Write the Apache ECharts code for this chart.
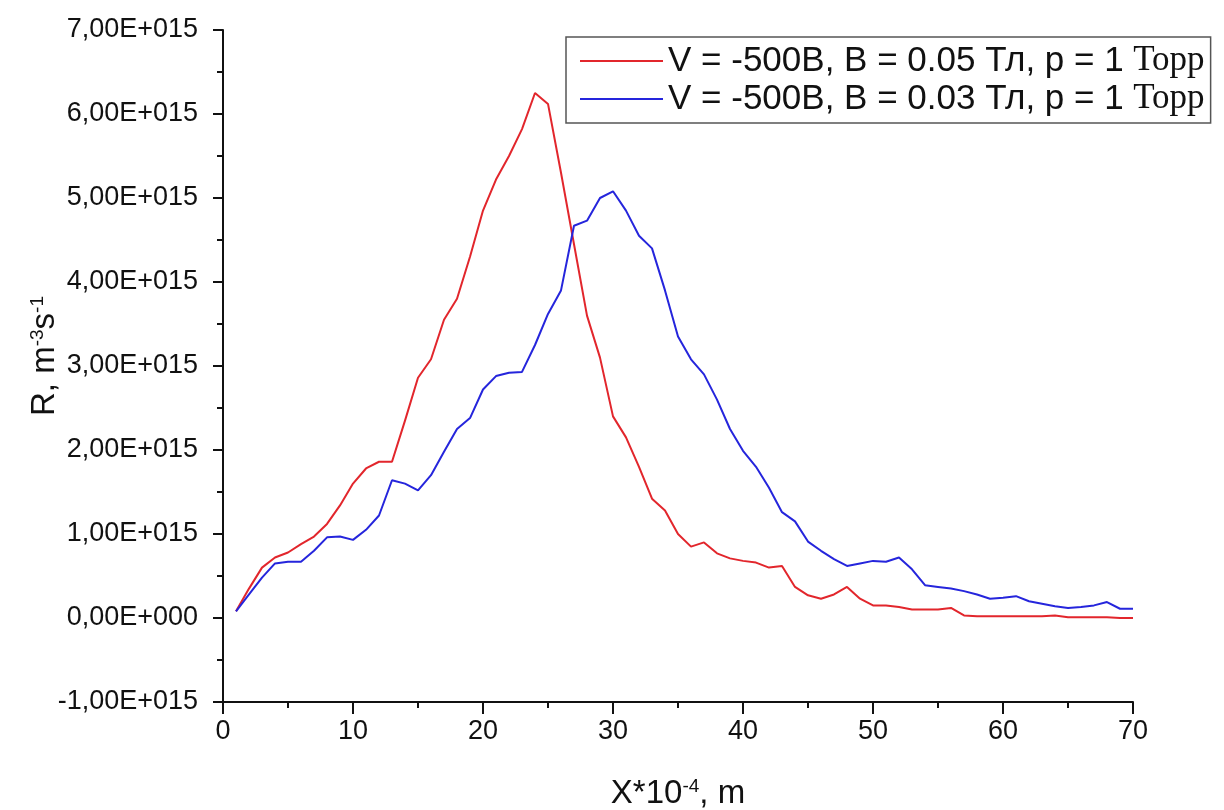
<!DOCTYPE html>
<html>
<head>
<meta charset="utf-8">
<script src="https://cdn.jsdelivr.net/npm/echarts@6/dist/echarts.min.js"></script>
<style>
html,body{margin:0;padding:0;background:#fff;}
#chart{width:1224px;height:810px;}
</style>
</head>
<body>
<div id="chart"></div>
<script>
// X positions (X*10^-4, m)
const xValues = [1,2,3,4,5,6,7,8,9,10,11,12,13,14,15,16,17,18,19,20,21,22,23,24,25,26,27,28,29,30,31,32,33,34,35,36,37,38,39,40,41,42,43,44,45,46,47,48,49,50,51,52,53,54,55,56,57,58,59,60,61,62,63,64,65,66,67,68,69,70];
// R values in units of 1E+15 m^-3 s^-1
const redValues = [0.08,0.35,0.60,0.72,0.78,0.88,0.97,1.12,1.34,1.60,1.78,1.86,1.86,2.35,2.86,3.08,3.55,3.80,4.30,4.85,5.22,5.50,5.82,6.25,6.12,5.30,4.45,3.60,3.10,2.40,2.15,1.80,1.42,1.28,1.00,0.85,0.90,0.77,0.71,0.68,0.66,0.60,0.62,0.37,0.27,0.23,0.28,0.37,0.23,0.15,0.15,0.13,0.10,0.10,0.10,0.12,0.03,0.02,0.02,0.02,0.02,0.02,0.02,0.03,0.01,0.01,0.01,0.01,0.00,0.00];
const blueValues = [0.08,0.28,0.48,0.65,0.67,0.67,0.80,0.96,0.97,0.93,1.05,1.22,1.64,1.60,1.52,1.70,1.98,2.25,2.38,2.72,2.88,2.92,2.93,3.25,3.62,3.90,4.67,4.73,5.00,5.08,4.85,4.55,4.40,3.90,3.35,3.08,2.90,2.60,2.25,1.99,1.80,1.55,1.26,1.15,0.91,0.80,0.70,0.62,0.65,0.68,0.67,0.72,0.58,0.39,0.37,0.35,0.32,0.28,0.23,0.24,0.26,0.20,0.17,0.14,0.12,0.13,0.15,0.19,0.11,0.11];
const seriesNames = ['V = -500В, B = 0.05 Тл, p = 1 Торр', 'V = -500В, B = 0.03 Тл, p = 1 Торр'];
const yTickLabels = ['-1,00E+015','0,00E+000','1,00E+015','2,00E+015','3,00E+015','4,00E+015','5,00E+015','6,00E+015','7,00E+015'];
const yMin = -1, yMax = 7;

const chart = echarts.init(document.getElementById('chart'));
const font = 'Liberation Sans, Arial, sans-serif';
const pair = (xs, ys) => xs.map((x, i) => [x, ys[i]]);

chart.setOption({
  animation: false,
  backgroundColor: '#fff',
  grid: {left: 223, right: 91, top: 30, bottom: 108, containLabel: false, outerBoundsMode: 'none'},
  legend: {
    orient: 'vertical',
    left: 566, top: 37,
    padding: [5, 6, 5, 14],
    itemGap: 0,
    icon: 'rect',
    itemWidth: 83, itemHeight: 2,
    borderColor: '#555', borderWidth: 1.5,
    formatter: name => '{s|' + name.replace(' Торр', ' ') + '}{t|Торр}',
    textStyle: {
      fontFamily: font, fontSize: 35, color: '#111', lineHeight: 38,
      rich: {
        s: {fontFamily: font, fontSize: 35, color: '#111', lineHeight: 38},
        t: {fontFamily: 'Liberation Serif, Times New Roman, serif', fontSize: 35, color: '#111', lineHeight: 38}
      }
    },
    data: seriesNames
  },
  xAxis: {
    type: 'value', min: 0, max: 70, interval: 10,
    name: '{a|X*10}{s|-4}{a|, m}',
    nameLocation: 'middle', nameGap: 75, nameMoveOverlap: false,
    nameTextStyle: {
      rich: {
        a: {fontFamily: font, fontSize: 33, color: '#111'},
        s: {fontFamily: font, fontSize: 19, color: '#111', verticalAlign: 'top'}
      }
    },
    axisLine: {show: true, onZero: false, lineStyle: {color: '#111', width: 2}},
    axisTick: {show: true, inside: false, length: 12, lineStyle: {color: '#111', width: 2}},
    minorTick: {show: true, splitNumber: 2, length: 6, lineStyle: {color: '#111', width: 2}},
    splitLine: {show: false},
    axisLabel: {fontFamily: font, fontSize: 27, color: '#111', margin: 16}
  },
  yAxis: {
    type: 'value', min: yMin, max: yMax, interval: 1,
    name: '{a|R, m}{s|-3}{a|s}{s|-1}',
    nameLocation: 'middle', nameGap: 162, nameRotate: 90, nameMoveOverlap: false,
    nameTextStyle: {
      padding: [0, 0, 0, 20],
      rich: {
        a: {fontFamily: font, fontSize: 33, color: '#111'},
        s: {fontFamily: font, fontSize: 19, color: '#111', verticalAlign: 'top'}
      }
    },
    axisLine: {show: true, onZero: false, lineStyle: {color: '#111', width: 2}},
    axisTick: {show: true, inside: false, length: 10, lineStyle: {color: '#111', width: 2}},
    minorTick: {show: true, splitNumber: 2, length: 6, lineStyle: {color: '#111', width: 2}},
    splitLine: {show: false},
    axisLabel: {
      fontFamily: font, fontSize: 27, color: '#111', margin: 25,
      formatter: v => yTickLabels[Math.round(v - yMin)]
    }
  },
  series: [
    {name: seriesNames[0], type: 'line', data: pair(xValues, redValues), symbol: 'none',
     lineStyle: {color: '#e2262c', width: 2}, itemStyle: {color: '#e2262c'}},
    {name: seriesNames[1], type: 'line', data: pair(xValues, blueValues), symbol: 'none',
     lineStyle: {color: '#2525dc', width: 2}, itemStyle: {color: '#2525dc'}}
  ]
});
</script>
</body>
</html>
